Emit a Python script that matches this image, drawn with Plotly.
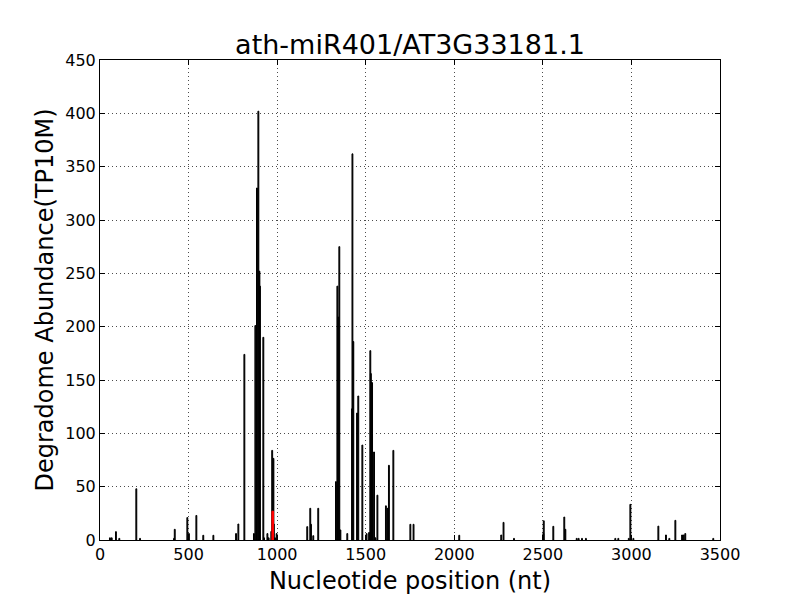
import plotly.graph_objects as go

title_text = "ath-miR401/AT3G33181.1"
x_label = "Nucleotide position (nt)"
y_label = "Degradome Abundance(TP10M)"

positions = [56, 66, 90, 109, 205, 226, 418, 422, 493, 502, 544, 583, 640, 768, 781,
             815, 869, 877, 886, 894, 900, 903, 922, 926, 945, 952, 967, 972, 979, 981,
             988, 997, 1170, 1187, 1191, 1204, 1232, 1332, 1340, 1345, 1351, 1357, 1396,
             1423, 1425, 1430, 1451, 1458, 1481, 1505, 1519, 1526, 1529, 1533, 1536, 1547,
             1555, 1566, 1614, 1623, 1631, 1656, 1752, 1770, 2028, 2265, 2278, 2337, 2503,
             2505, 2559, 2621, 2627, 2691, 2702, 2721, 2743, 2909, 2926, 2985, 2994, 3011,
             3152, 3195, 3214, 3248, 3286, 3295, 3304, 3462]
abundance = [2, 2, 7.8, 1.5, 48, 1.5, 1.5, 10, 21, 6, 23, 4.4, 4.4, 6, 15,
             174, 6, 201, 330, 402, 252, 238, 190, 2, 6, 2, 8, 84, 76.5, 15,
             2, 6, 12.5, 29.7, 14.7, 4, 29.7, 54.7, 238, 209, 275, 9.4, 6,
             123, 362, 186, 119, 135, 89, 6, 7, 177.5, 156, 147.5, 147.5, 82.5,
             2, 42, 32, 29.7, 70, 84, 14.7, 14.7, 4.4, 4.7, 16.5, 1.5, 6,
             18, 12.8, 21.5, 10, 1.5, 1.5, 1.5, 1.5, 1.5, 1.5, 1.5, 33.4, 1.5,
             13, 4.7, 1.5, 18.4, 4.7, 4.7, 6, 1.5]

target_pos = [975]
target_abund = [27]

x_ticks = [0, 500, 1000, 1500, 2000, 2500, 3000, 3500]
y_ticks = [0, 50, 100, 150, 200, 250, 300, 350, 400, 450]

FONT = "DejaVu Sans"

fig = go.Figure()
fig.add_trace(go.Bar(
    x=positions, y=abundance, width=5,
    marker=dict(color="black", line=dict(color="black", width=1)),
    showlegend=False, hoverinfo="x+y",
))
fig.add_trace(go.Bar(
    x=target_pos, y=target_abund, width=9,
    marker=dict(color="red", line=dict(color="red", width=1)),
    showlegend=False, hoverinfo="x+y",
))

axis_common = dict(
    showline=True, linecolor="black", linewidth=1, mirror="allticks",
    ticks="inside", ticklen=5, tickcolor="black", tickwidth=1,
    showgrid=True, gridcolor="rgba(0,0,0,0.7)", gridwidth=1, griddash="1px,3px",
    zeroline=False, tickfont=dict(family=FONT, size=16, color="black"),
)

fig.update_layout(
    width=800, height=600,
    margin=dict(l=100, r=80, t=60, b=60),
    paper_bgcolor="white", plot_bgcolor="white",
    barmode="overlay",
    font=dict(family=FONT, color="black"),
    title=dict(text=title_text, x=0.5125, xanchor="center", xref="container",
               y=0.925, yanchor="middle", yref="container",
               font=dict(family=FONT, size=27, color="black")),
    xaxis=dict(range=[0, 3500], tickvals=x_ticks, **axis_common,
               title=dict(text=x_label, font=dict(family=FONT, size=24, color="black"), standoff=8)),
    yaxis=dict(range=[0, 450], tickvals=y_ticks, **axis_common,
               title=dict(text=y_label, font=dict(family=FONT, size=24, color="black"), standoff=4)),
)

fig.write_html("out.html", config={"displayModeBar": False},
               post_script="document.body.style.margin='0';")
